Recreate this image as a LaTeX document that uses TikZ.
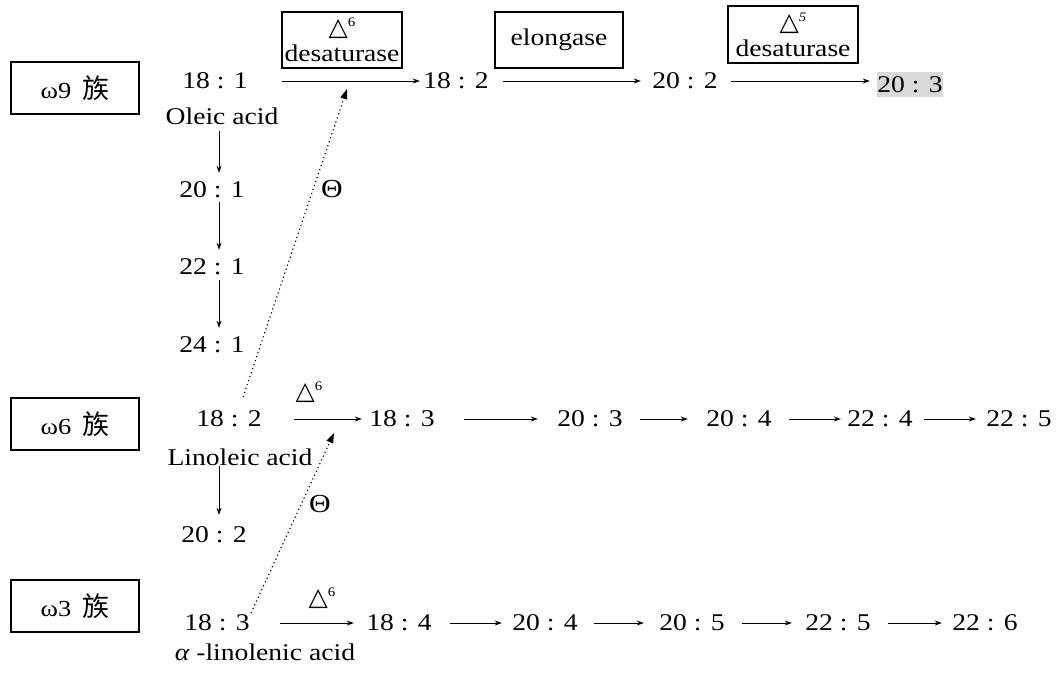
\documentclass[tikz,border=0pt]{standalone}
\usepackage{fontspec}
\setmainfont{Liberation Serif}[FakeStretch=1.15]
\newfontfamily\cjkfont{Noto Sans CJK SC}
\newfontfamily\symfont{DejaVu Sans}
\usetikzlibrary{arrows.meta}
\newcommand{\tri}[1]{{\symfont\fontsize{25}{25}\selectfont △}\raisebox{9pt}{\fontsize{13}{13}\selectfont #1}}
\newcommand{\famlabel}[1]{{\fontsize{23}{23}\selectfont ω#1}\hspace{11pt}{\cjkfont\fontsize{27}{27}\selectfont 族}}
\tikzset{
  every node/.style={inner sep=0pt, font=\fontsize{24}{25}\selectfont},
  fambox/.style={draw, line width=1.3pt, minimum width=128pt, minimum height=52pt},
  enzbox/.style={draw, line width=1.3pt, align=center, minimum height=56pt},
  numnode/.style={minimum height=20pt, minimum width=66pt},
  arr/.style={-{Stealth[length=7pt,width=5pt]}, line width=0.9pt},
  dotarr/.style={-{Triangle[length=10pt,width=7pt]}, line width=1.1pt, dash pattern=on 1.2pt off 3pt},
}
\begin{document}
\begin{tikzpicture}[x=1pt,y=-1pt]
\useasboundingbox[fill=white] (0,0) rectangle (1062,673);

% family boxes
\node[fambox] (f9) at (75,88) {\famlabel{9}};
\node[fambox] (f6) at (75,424) {\famlabel{6}};
\node[fambox] (f3) at (75,606) {\famlabel{3}};

% omega-9 row
\node[numnode] (a181) at (215,81) {18 : 1};
\node (oleic) at (222,116) {Oleic acid};
\node[numnode] (a182) at (456,81) {18 : 2};
\node[numnode] (a202) at (685,81) {20 : 2};
\node[numnode, fill=gray!30, minimum height=25pt] (a203) at (910,84.5) {20 : 3};
\node[enzbox, minimum width=120pt] (e1) at (342,40) {\tri{6}\\[1pt]desaturase};
\node[enzbox, minimum width=128pt] (e2) at (559,40) {elongase};
\node[enzbox, minimum width=130pt, minimum height=57pt] (e3) at (793,34.5) {\tri{\itshape 5}\\[1pt]desaturase};
\draw[arr, shorten <=34pt, shorten >=3pt] (a181.east) -- (a182.west);
\draw[arr, shorten <=14pt, shorten >=11pt] (a182.east) -- (a202.west);
\draw[arr, shorten <=13pt, shorten >=7pt] (a202.east) -- (a202.east -| a203.west);

% omega-9 column
\coordinate (col9) at (219,0);
\node[numnode] (n201) at (212,190) {20 : 1};
\node[numnode] (n221) at (212,267) {22 : 1};
\node[numnode] (n241) at (212,345) {24 : 1};
\draw[arr, shorten <=6pt, shorten >=7pt] (oleic.south -| col9) -- (n201.north -| col9);
\draw[arr, shorten <=2pt, shorten >=7pt] (n201.south -| col9) -- (n221.north -| col9);
\draw[arr, shorten <=3pt, shorten >=7pt] (n221.south -| col9) -- (n241.north -| col9);
\node[font=\fontsize{26}{26}\selectfont] (th9) at (332,189) {Θ};

% omega-6 row
\node[numnode] (b182) at (229,419) {18 : 2};
\node (linoleic) at (240,457) {Linoleic acid};
\node (d6b) at (309,392) {\tri{6}};
\node[numnode] (b183) at (402,419) {18 : 3};
\node[numnode] (b203) at (590,419) {20 : 3};
\node[numnode] (b204) at (739,419) {20 : 4};
\node[numnode] (b224) at (880,419) {22 : 4};
\node[numnode] (b225) at (1019,419) {22 : 5};
\draw[arr, shorten <=32pt, shorten >=7pt] (b182.east) -- (b183.west);
\draw[arr, shorten <=29pt, shorten >=19pt] (b183.east) -- (b203.west);
\draw[arr, shorten <=17pt, shorten >=18pt] (b203.east) -- (b204.west);
\draw[arr, shorten <=17pt, shorten >=6pt] (b204.east) -- (b224.west);
\draw[arr, shorten <=11pt, shorten >=10pt] (b224.east) -- (b225.west);
\coordinate (col6) at (219,0);
\node[numnode] (b202) at (214,535) {20 : 2};
\draw[arr, shorten >=10pt] (linoleic.south -| col6) -- (b202.north -| col6);
\node[font=\fontsize{26}{26}\selectfont] (th6) at (320,504) {Θ};

% omega-3 row
\node[numnode] (c183) at (217,623) {18 : 3};
\node (alin) at (265,652) {{\itshape α} -linolenic acid};
\node (d6c) at (322,598) {\tri{6}};
\node[numnode] (c184) at (399,623) {18 : 4};
\node[numnode] (c204) at (545,623) {20 : 4};
\node[numnode] (c205) at (692,623) {20 : 5};
\node[numnode] (c225) at (838,623) {22 : 5};
\node[numnode] (c226) at (985,623) {22 : 6};
\draw[arr, shorten <=30pt, shorten >=12pt] (c183.east) -- (c184.west);
\draw[arr, shorten <=18pt, shorten >=10pt] (c184.east) -- (c204.west);
\draw[arr, shorten <=16pt, shorten >=15pt] (c204.east) -- (c205.west);
\draw[arr, shorten <=17pt, shorten >=13pt] (c205.east) -- (c225.west);
\draw[arr, shorten <=17pt, shorten >=10pt] (c225.east) -- (c226.west);

% inhibition (dotted) arrows
\coordinate (s9) at (243,397);
\coordinate (t9) at (347,89);
\draw[dotarr] (s9) -- (t9);
\coordinate (s6) at (251,613);
\coordinate (t6) at (334,433);
\draw[dotarr] (s6) -- (t6);
\end{tikzpicture}
\end{document}
